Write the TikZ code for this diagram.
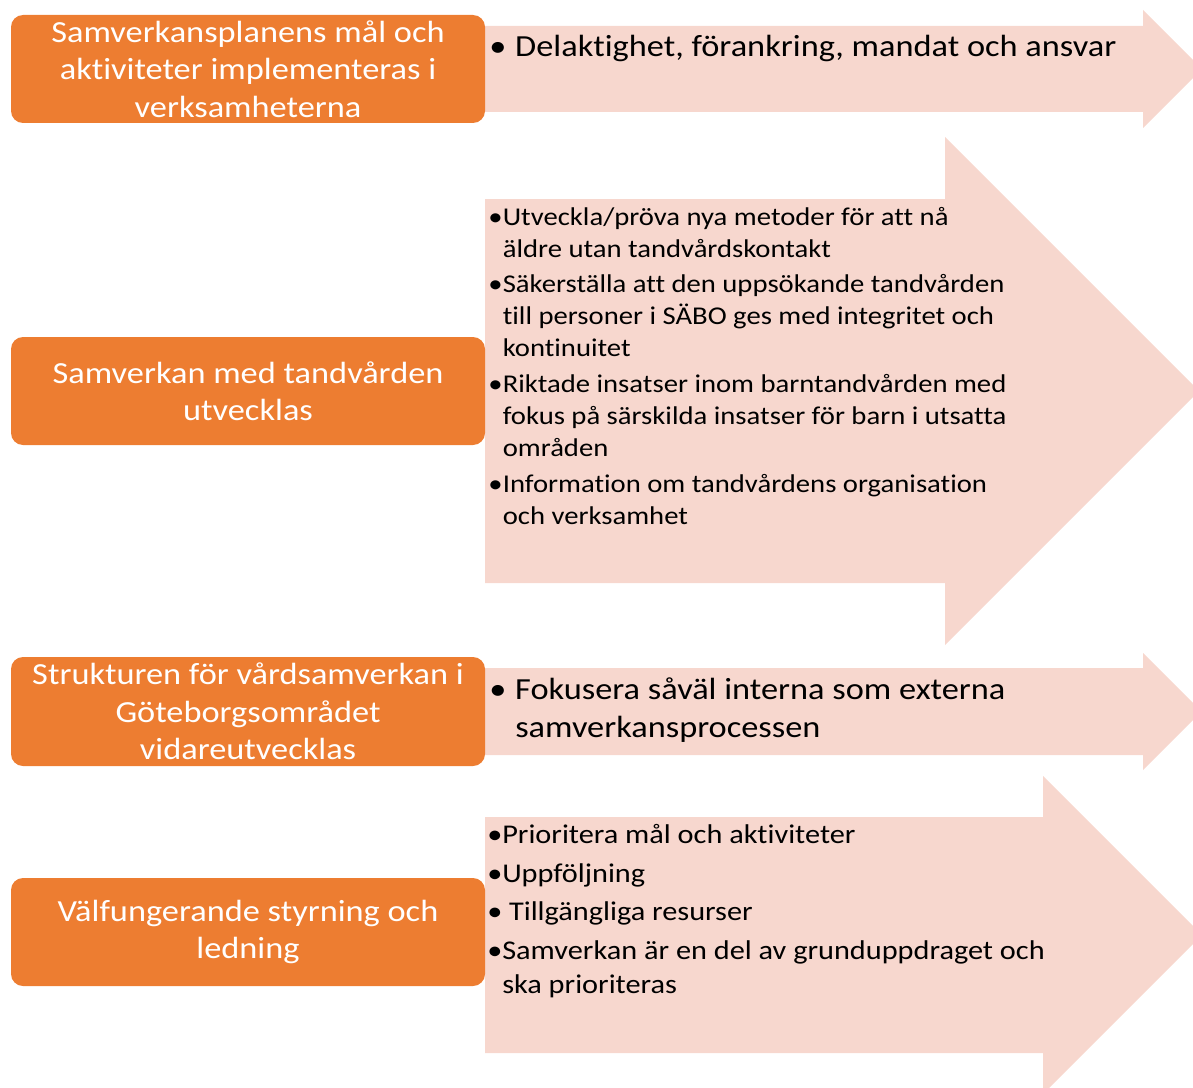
\documentclass[tikz,border=0pt]{standalone}
\usepackage{fontspec}
\setmainfont{Carlito}[FakeStretch=1.12, Ligatures=NoCommon]
\definecolor{orng}{HTML}{ED7D31}
\definecolor{blush}{HTML}{F7D7CE}
\newcommand{\bl}[1]{\makebox[#1][l]{\textbullet}}
\begin{document}
\begin{tikzpicture}[x=0.75pt,y=-0.75pt,
  obox/.style={fill=orng, rounded corners=9pt, text=white, align=center,
    minimum width=355.5pt, minimum height=81pt, inner sep=0pt,
    font=\fontsize{23}{28}\selectfont},
  arr/.style={fill=blush},
  txt/.style={anchor=base west, inner sep=0pt, text=black},
  fa/.style={font=\fontsize{23}{28.5}\selectfont},
  fb/.style={font=\fontsize{19.2}{24}\selectfont},
  fd/.style={font=\fontsize{20.3}{25.5}\selectfont}]
\useasboundingbox (0,0) rectangle (1193,1088);
\begin{scope}
\clip (0,0) rectangle (1193,1088);
\fill[arr] (485,26) -- (1143,26) -- (1143,10) -- (1202,69) -- (1143,128) -- (1143,112) -- (485,112) -- cycle;
\fill[arr] (485,199) -- (945,199) -- (945,137) -- (1199,391) -- (945,645) -- (945,583) -- (485,583) -- cycle;
\fill[arr] (485,668) -- (1143,668) -- (1143,653) -- (1201.5,711.5) -- (1143,770) -- (1143,755) -- (485,755) -- cycle;
\fill[arr] (485,817) -- (1043,817) -- (1043,776) -- (1202,935) -- (1043,1094) -- (1043,1053) -- (485,1053) -- cycle;
\end{scope}

\node[obox] (b1) at (248,69) {Samverkansplanens mål och\\aktiviteter implementeras i\\verksamheterna};
\node[obox] (b2) at (248,391) {Samverkan med tandvården\\utvecklas};
\node[obox, minimum height=81.75pt] (b3) at (248,711.5) {Strukturen för vårdsamverkan i\\Göteborgsområdet\\vidareutvecklas};
\node[obox] (b4) at (248,932) {Välfungerande styrning och\\ledning};

\node[txt, fa] (t1) at (489,57) {\bl{19.5pt}Delaktighet, förankring, mandat och ansvar};

\node[txt, fb] (t2a) at (488,225) {\begin{tabular}[t]{@{}l@{}l@{}}\bl{10.9pt}&Utveckla/pröva nya metoder för att nå\\&äldre utan tandvårdskontakt\end{tabular}};
\node[txt, fb] (t2b) at (488,292) {\begin{tabular}[t]{@{}l@{}l@{}}\bl{10.9pt}&Säkerställa att den uppsökande tandvården\\&till personer i SÄBO ges med integritet och\\&kontinuitet\end{tabular}};
\node[txt, fb] (t2c) at (488,392) {\begin{tabular}[t]{@{}l@{}l@{}}\bl{10.9pt}&Riktade insatser inom barntandvården med\\&fokus på särskilda insatser för barn i utsatta\\&områden\end{tabular}};
\node[txt, fb] (t2d) at (488,492) {\begin{tabular}[t]{@{}l@{}l@{}}\bl{10.9pt}&Information om tandvårdens organisation\\&och verksamhet\end{tabular}};

\node[txt, fa] (t3) at (489,699) {\begin{tabular}[t]{@{}l@{}l@{}}\bl{19.5pt}&Fokusera såväl interna som externa\\&samverkansprocessen\end{tabular}};

\node[txt, fd] (t4a) at (487,843) {\bl{11.25pt}Prioritera mål och aktiviteter};
\node[txt, fd] (t4b) at (487,882) {\bl{11.25pt}Uppföljning};
\node[txt, fd] (t4c) at (487,920) {\bl{11.25pt}\ Tillgängliga resurser};
\node[txt, fd] (t4d) at (487,959) {\begin{tabular}[t]{@{}l@{}l@{}}\bl{11.25pt}&Samverkan är en del av grunduppdraget och\\&ska prioriteras\end{tabular}};
\end{tikzpicture}
\end{document}
